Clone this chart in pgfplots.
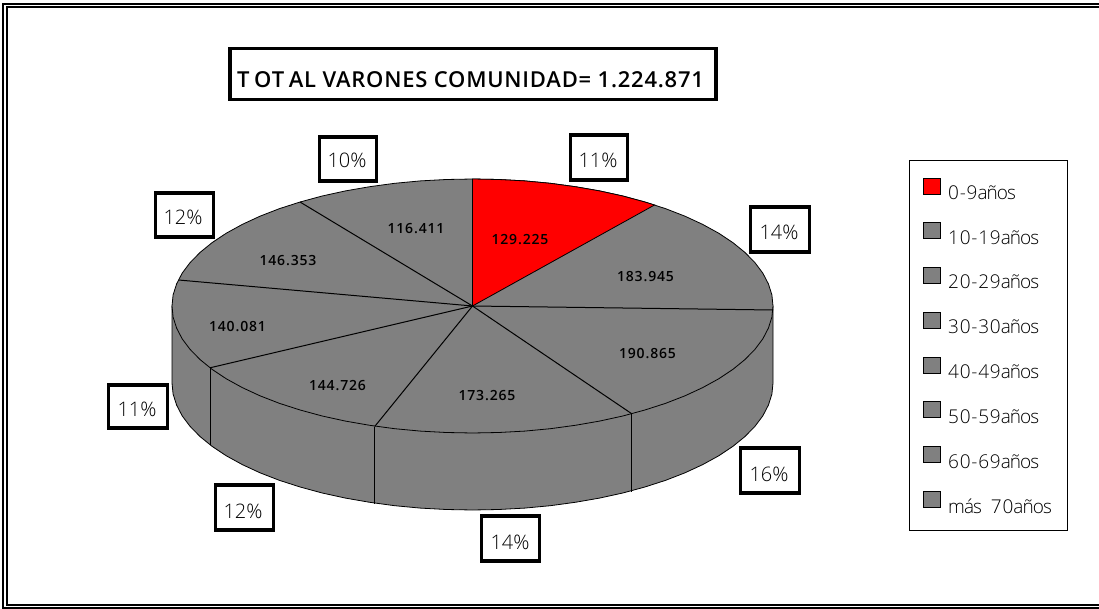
\documentclass[border=0pt]{standalone}
\usepackage{fontspec}
\setmainfont{Open Sans}
\newfontfamily\lightf{Open Sans Light}
\newfontfamily\digf[LetterSpace=4]{Open Sans Light}
\newfontfamily\anof[LetterSpace=-5]{Open Sans Light}
\newfontfamily\valf[LetterSpace=6]{Open Sans Semibold}
\newfontfamily\titf[LetterSpace=3.5]{Open Sans Semibold}
\usepackage{pgfplots}
\pgfplotsset{compat=1.18}
\definecolor{piegray}{HTML}{808080}
\protected\def\leg#1#2{{\digf #1}{\anof #2}}
\protected\def\legm#1#2#3{{\anof #1\ \kern5pt}{\digf #2}{\anof #3}}
\pgfplotsset{
  labelset/.style={only marks, mark=none, nodes near coords, point meta=explicit symbolic,
    every node near coord/.append style={anchor=base, inner sep=0pt, #1}},
  box/.style={draw=black, fill=white, line width=3.5pt, line join=miter},
  sw/.style={draw=black, fill=#1, line width=0.9pt},
}
\begin{document}
\begin{tikzpicture}
\useasboundingbox (0,0) rectangle (1099pt,609pt);
\begin{axis}[
  scale only axis, width=1099pt, height=609pt, at={(0,0)}, anchor=south west,
  xmin=0, xmax=1099, ymin=0, ymax=609, y dir=reverse,
  hide axis, clip=false]
% frame
\addplot[black, line width=2.3pt] coordinates {(1099,3.7) (3,3.7) (3,608.5) (1099,608.5)};
\addplot[black, line width=1.7pt] coordinates {(1099,7.2) (6.7,7.2) (6.7,605.2) (1099,605.2)};
% pie side
\addplot[fill=piegray, draw=black, line width=0.8pt] coordinates {
(172,306)(172,383)(173.1,394.1)(176.6,405.1)(182.2,415.9)(190.1,426.4)(200.2,436.7)(212.3,446.5)(226.3,455.8)(242.3,464.6)(260,472.8)(279.3,480.3)(300.1,487)(322.2,493)(345.5,498.1)(369.7,502.3)(394.7,505.7)(420.3,508.1)(446.3,509.5)(472.5,510)
(498.7,509.5)(524.7,508.1)(550.3,505.7)(575.3,502.3)(599.5,498.1)(622.8,493)(644.9,487)(665.7,480.3)(685,472.8)(702.7,464.6)(718.7,455.8)(732.7,446.5)(744.8,436.7)(754.9,426.4)(762.8,415.9)(768.4,405.1)(771.9,394.1)(773,383)(773,306)} --cycle;
% pie top
\addplot[fill=piegray, draw=black, line width=0.8pt] coordinates {
(773,306)(771.9,317.1)(768.4,328.1)(762.8,338.9)(754.9,349.4)(744.8,359.7)(732.7,369.5)(718.7,378.8)(702.7,387.6)(685,395.8)(665.7,403.3)(644.9,410)(622.8,416)(599.5,421.1)(575.3,425.3)(550.3,428.7)(524.7,431.1)(498.7,432.5)(472.5,433)
(446.3,432.5)(420.3,431.1)(394.7,428.7)(369.7,425.3)(345.5,421.1)(322.2,416)(300.1,410)(279.3,403.3)(260,395.8)(242.3,387.6)(226.3,378.8)(212.3,369.5)(200.2,359.7)(190.1,349.4)(182.2,338.9)(176.6,328.1)(173.1,317.1)(172,306)
(173.1,294.9)(176.6,283.9)(182.2,273.1)(190.1,262.6)(200.2,252.3)(212.3,242.5)(226.3,233.2)(242.3,224.4)(260,216.2)(279.3,208.7)(300.1,202)(322.2,196)(345.5,190.9)(369.7,186.7)(394.7,183.3)(420.3,180.9)(446.3,179.5)(472.5,179)
(498.7,179.5)(524.7,180.9)(550.3,183.3)(575.3,186.7)(599.5,190.9)(622.8,196)(644.9,202)(665.7,208.7)(685,216.2)(702.7,224.4)(718.7,233.2)(732.7,242.5)(744.8,252.3)(754.9,262.6)(762.8,273.1)(768.4,283.9)(771.9,294.9)} --cycle;
% red slice
\addplot[fill=red, draw=black, line width=0.8pt] coordinates {
(472.5,306)(472.5,179)(498.7,179.5)(524.7,180.9)(550.3,183.3)(575.3,186.7)(599.5,190.9)(622.8,196)(644.9,202)(654.5,205)} --cycle;
% spokes
\addplot[black, line width=1pt] coordinates {(472.5,306)(773,310)};
\addplot[black, line width=1pt] coordinates {(472.5,306)(631.7,413.7)};
\addplot[black, line width=1pt] coordinates {(472.5,306)(374.7,426.5)};
\addplot[black, line width=1pt] coordinates {(472.5,306)(210,367.8)};
\addplot[black, line width=1pt] coordinates {(472.5,306)(178.5,280)};
\addplot[black, line width=1pt] coordinates {(472.5,306)(300,202)};
% side edges
\addplot[black, line width=1pt] coordinates {(631.7,413.7)(631.7,491.5)};
\addplot[black, line width=1pt] coordinates {(374.7,426.5)(374.7,504)};
\addplot[black, line width=1pt] coordinates {(210,367.8)(210,445)};
% title box
\addplot[box] coordinates {(230,48.5)(716,48.5)(716,99.5)(230,99.5)} --cycle;
% percentage boxes
\addplot[box] coordinates {(570.5,135)(627.5,135)(627.5,180)(570.5,180)} --cycle;
\addplot[box] coordinates {(750.5,207)(809.5,207)(809.5,252)(750.5,252)} --cycle;
\addplot[box] coordinates {(740.5,448)(799.5,448)(799.5,493)(740.5,493)} --cycle;
\addplot[box] coordinates {(481.5,516)(539.5,516)(539.5,561)(481.5,561)} --cycle;
\addplot[box] coordinates {(215.5,485)(273.5,485)(273.5,530)(215.5,530)} --cycle;
\addplot[box] coordinates {(108.5,385)(167.5,385)(167.5,428)(108.5,428)} --cycle;
\addplot[box] coordinates {(155.5,193)(213.5,193)(213.5,237)(155.5,237)} --cycle;
\addplot[box] coordinates {(319.5,137)(376.5,137)(376.5,181)(319.5,181)} --cycle;
% title
\addplot[labelset={font=\titf\fontsize{22}{24}\selectfont, text=black}] coordinates {
 (470.5,88)[T\kern4.5pt O\kern0.5pt T\kern4.5pt AL VARONES COMUNIDAD= 1.224.871]};
% percentages
\addplot[labelset={font=\lightf\fontsize{20}{22}\selectfont, text=black}] coordinates {
 (598,168)[11\%] (779,240)[14\%] (769,481)[16\%] (510,549)[14\%]
 (243,518)[12\%] (137,416)[11\%] (183,225)[12\%] (347,168)[10\%]};
% values
\addplot[labelset={font=\valf\fontsize{14}{16}\selectfont, text=black}] coordinates {
 (520,245)[129.225] (645.5,282)[183.945] (647.5,358)[190.865] (487,400)[173.265]
 (337.5,390)[144.726] (237.5,331)[140.081] (288,266)[146.353] (416,234)[116.411]};
% legend
\addplot[draw=black, fill=white, line width=1pt] coordinates {(909.5,161)(1067.5,161)(1067.5,530.5)(909.5,530.5)} --cycle;
\addplot[sw=red] coordinates {(923.5,178)(940.5,178)(940.5,194)(923.5,194)} --cycle;
\addplot[sw=piegray] coordinates {(923.5,222.5)(940.5,222.5)(940.5,238.5)(923.5,238.5)} --cycle;
\addplot[sw=piegray] coordinates {(923.5,267.5)(940.5,267.5)(940.5,283.5)(923.5,283.5)} --cycle;
\addplot[sw=piegray] coordinates {(923.5,312)(940.5,312)(940.5,328)(923.5,328)} --cycle;
\addplot[sw=piegray] coordinates {(923.5,357)(940.5,357)(940.5,373)(923.5,373)} --cycle;
\addplot[sw=piegray] coordinates {(923.5,401.5)(940.5,401.5)(940.5,417.5)(923.5,417.5)} --cycle;
\addplot[sw=piegray] coordinates {(923.5,446.5)(940.5,446.5)(940.5,462.5)(923.5,462.5)} --cycle;
\addplot[sw=piegray] coordinates {(923.5,491.5)(940.5,491.5)(940.5,507.5)(923.5,507.5)} --cycle;
\addplot[only marks, mark=none, nodes near coords, point meta=explicit symbolic,
  every node near coord/.append style={anchor=base west, inner sep=0pt, font=\fontsize{19}{21}\selectfont, text=black}]
 coordinates {
 (948,199.3)[\leg{0-9}{años}] (948,244.3)[\leg{10-19}{años}] (948,288.8)[\leg{20-29}{años}]
 (948,333.5)[\leg{30-30}{años}] (948,378.5)[\leg{40-49}{años}] (948,423)[\leg{50-59}{años}]
 (948,468)[\leg{60-69}{años}] (948,513)[\legm{más}{70}{años}]};
\end{axis}
\end{tikzpicture}
\end{document}
